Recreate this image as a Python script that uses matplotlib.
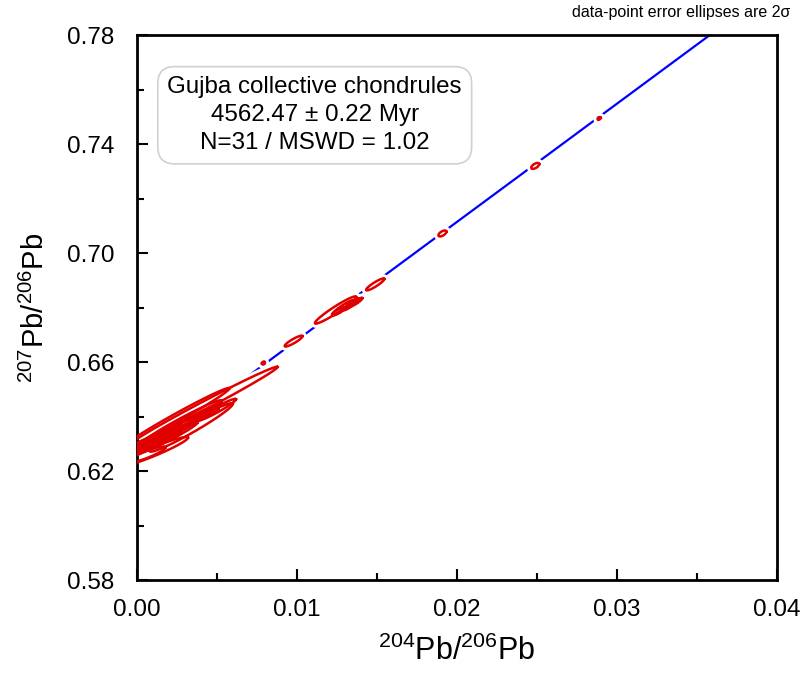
import numpy as np
import matplotlib.pyplot as plt

# region data
# regression (isochron) line: 207Pb/206Pb = intercept + slope * 204Pb/206Pb
line_intercept = 0.6246
line_slope = 4.34
line_x_start = 0.0068

# error ellipses (2 sigma): centre x, centre y, half-width x, half-height y, correlation
ell_x = [0.0289, 0.0249, 0.0191, 0.0149, 0.01242, 0.0129, 0.0134, 0.0126, 0.0137,
         0.0098, 0.0079,
         0.0042, 0.0034, 0.0024, 0.0033, 0.0043, 0.0024, 0.0014, 0.0010, 0.0005,
         0.0030, 0.0018, 0.0008, 0.0038, 0.0003, 0.0050, 0.0020, 0.0012, 0.0028,
         0.0006, 0.0016]
ell_y = [0.7494, 0.7320, 0.7072, 0.6885, 0.6791, 0.6800, 0.6812, 0.6786, 0.6820,
         0.6677, 0.6597,
         0.6440, 0.6360, 0.6393, 0.6387, 0.6406, 0.6358, 0.6332, 0.6270, 0.6290,
         0.6370, 0.6320, 0.6300, 0.6400, 0.6280, 0.6425, 0.6345, 0.6305, 0.6380,
         0.6260, 0.6330]
ell_sx = [0.0001, 0.00025, 0.00025, 0.00057, 0.00129, 0.0007, 0.0005, 0.0004, 0.0004,
          0.00056, 0.0001,
          0.0046, 0.0026, 0.0034, 0.0007, 0.0008, 0.0010, 0.0012, 0.0022, 0.0015,
          0.0018, 0.0020, 0.0028, 0.0015, 0.0010, 0.0012, 0.0006, 0.0016, 0.0025,
          0.0012, 0.0030]
ell_sy = [0.0005, 0.0011, 0.0011, 0.0022, 0.0050, 0.0028, 0.0022, 0.0015, 0.0016,
          0.0020, 0.0005,
          0.0143, 0.0089, 0.0112, 0.0022, 0.0025, 0.0030, 0.0035, 0.0055, 0.0040,
          0.0060, 0.0060, 0.0080, 0.0050, 0.0028, 0.0040, 0.0018, 0.0045, 0.0080,
          0.0030, 0.0085]
ell_rho = [0.5, 0.6, 0.6, 0.91, 0.957, 0.93, 0.92, 0.85, 0.9,
           0.9, 0.5,
           0.993, 0.97, 0.988, 0.9, 0.92, 0.93, 0.94, 0.95, 0.95,
           0.975, 0.97, 0.985, 0.97, 0.9, 0.96, 0.85, 0.96, 0.98,
           0.9, 0.985]

box_lines = ['Gujba collective chondrules', '4562.47 \u00b1 0.22 Myr', 'N=31 / MSWD = 1.02']
# endregion


def ellipse_outline(cx, cy, sx, sy, rho, n=200):
    t = np.linspace(0, 2 * np.pi, n)
    x = cx + sx * np.cos(t)
    y = cy + sy * (rho * np.cos(t) + np.sqrt(1 - rho ** 2) * np.sin(t))
    return x, y


def main():
    plt.rcParams['font.family'] = ['Liberation Sans', 'DejaVu Sans']
    plt.rcParams['mathtext.default'] = 'regular'

    fig = plt.figure(figsize=(8, 6.76), dpi=100)
    ax = fig.add_axes([0.171, 0.142, 0.8, 0.806])

    # isochron line
    xl = np.array([line_x_start, 0.04])
    ax.plot(xl, line_intercept + line_slope * xl, color='#0000ff', lw=1.6, zorder=1)

    # white fills + halo first, so the line is broken around each ellipse
    outlines = [ellipse_outline(*p) for p in zip(ell_x, ell_y, ell_sx, ell_sy, ell_rho)]
    for x, y in outlines:
        ax.fill(x, y, color='white', ec='white', lw=6, zorder=2)
    for x, y in outlines:
        ax.plot(x, y, color='#e00000', lw=1.8, zorder=3)

    ax.set_xlim(0, 0.04)
    ax.set_ylim(0.58, 0.78)
    ax.set_xticks([0.00, 0.01, 0.02, 0.03, 0.04])
    ax.set_xticks([0.005, 0.015, 0.025, 0.035], minor=True)
    ax.set_yticks([0.58, 0.62, 0.66, 0.70, 0.74, 0.78])
    ax.set_yticks([0.60, 0.64, 0.68, 0.72, 0.76], minor=True)
    ax.set_xticklabels(['0.00', '0.01', '0.02', '0.03', '0.04'])
    ax.set_yticklabels(['0.58', '0.62', '0.66', '0.70', '0.74', '0.78'])
    ax.tick_params(which='both', direction='in', labelsize=17.5, width=1.5,
                   top=False, right=False)
    ax.tick_params(axis='y', pad=16)
    ax.tick_params(axis='x', pad=14)
    ax.tick_params(which='major', length=8)
    ax.tick_params(which='minor', length=5)
    for s in ax.spines.values():
        s.set_linewidth(2)

    ax.set_xlabel(r'$^{204}$Pb/$^{206}$Pb', fontsize=22, labelpad=10)
    ax.set_ylabel(r'$^{207}$Pb/$^{206}$Pb', fontsize=21, labelpad=12)

    ax.text(0.278, 0.853, '\n'.join(box_lines), transform=ax.transAxes, fontsize=17.4,
            ha='center', va='center', linespacing=1.35,
            bbox=dict(boxstyle='round,pad=0.4,rounding_size=0.7', fc='white',
                      ec='#d0d0d0', lw=1.2))
    fig.text(0.988, 0.982, 'data-point error ellipses are 2\u03c3', fontsize=11.5,
             ha='right', va='center')

    fig.savefig('out.png', dpi=100)


if __name__ == "__main__":
    main()
